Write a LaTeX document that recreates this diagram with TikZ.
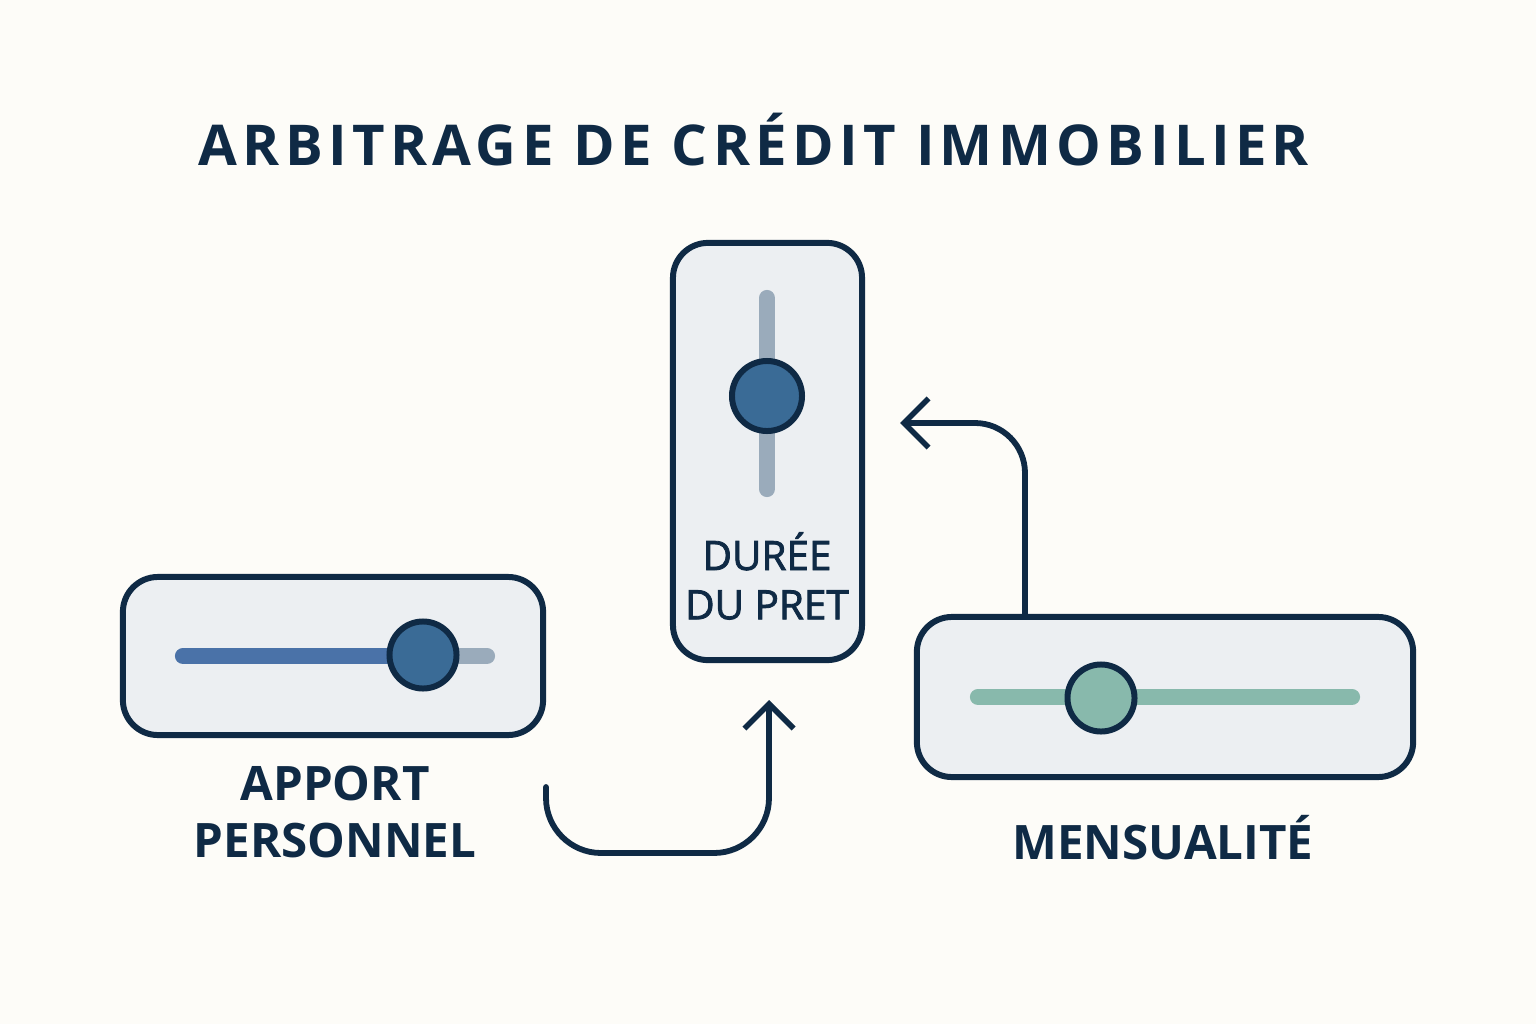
\documentclass[tikz,border=0pt]{standalone}
\usepackage{fontspec}
\setmainfont{Open Sans}
\usetikzlibrary{positioning, calc, arrows.meta}
\definecolor{navy}{HTML}{0F2A45}
\definecolor{panel}{HTML}{ECEFF2}
\definecolor{paper}{HTML}{FDFCF8}
\definecolor{trackblue}{HTML}{4A72A8}
\definecolor{trackgray}{HTML}{9AABBB}
\definecolor{knobblue}{HTML}{3A6B96}
\definecolor{mint}{HTML}{88B9AC}
\tikzset{>={Straight Barb[length=7pt,width=14pt,line width=1.6pt]}}
\tikzset{
    panelbox/.style={draw=navy, line width=1.7pt, fill=panel, rounded corners=0.35cm, inner sep=0pt},
    track/.style={line width=4.6pt, line cap=round},
    knob/.style={circle, draw=navy, line width=1.7pt, inner sep=0pt, minimum size=0.67cm},
    caption/.style={text=navy, font=\bfseries\fontsize{13.5}{16}\selectfont, align=center},
    link/.style={draw=navy, line width=1.65pt, line cap=round, rounded corners=0.5cm, ->}
}
\begin{document}
\begin{tikzpicture}[x=0.01cm, y=-0.01cm]
    \fill[paper] (0,0) rectangle (1536,1024);
    \useasboundingbox (0,0) rectangle (1536,1024);

    \node[text=navy, font=\bfseries\fontsize{16}{20}\selectfont\addfontfeature{LetterSpace=9.5}] (title) at (754,140) {ARBITRAGE DE CRÉDIT IMMOBILIER};

    % the three sliders
    \node[panelbox, minimum width=4.2cm, minimum height=1.58cm] (apport) at (333,656) {};
    \node[panelbox, minimum width=1.89cm, minimum height=4.17cm] (duree) at (767.5,451.5) {};
    \node[panelbox, minimum width=4.96cm, minimum height=1.6cm] (mens) at (1165,697) {};

    \draw[track, trackblue] (183,656) -- (423,656);
    \draw[track, trackgray] (423,656) -- (487,656);
    \node[knob, fill=knobblue] (kapport) at (423,655) {};

    \draw[track, trackgray] (767,298) -- (767,489);
    \node[knob, fill=knobblue, minimum size=0.7cm] (kduree) at (767,396) {};

    \draw[track, mint] (978,697) -- (1352,697);
    \node[knob, fill=mint] (kmens) at (1101,698) {};

    % labels
    \node[caption] (lapport) at (335,812) {APPORT\\PERSONNEL};
    \node[caption, font=\fontsize{11.5}{14}\selectfont\addfontfeature{FakeBold=2}] (lduree) at (767,576) {DURÉE\\DU PRET};
    \node[caption] (lmens) at (1163,838) {MENSUALITÉ};

    % arrows
    \coordinate (a0) at (546,787);
    \coordinate (a1) at (769,700);
    \coordinate (b0) at (1025,617);
    \coordinate (b1) at (900,423);
    \draw[link, rounded corners=0.55cm] (a0) -- (a0 |- 0,853) -- (a1 |- 0,853) -- (a1);
    \draw[link] (b0) -- (b0 |- b1) -- (b1);
\end{tikzpicture}
\end{document}
